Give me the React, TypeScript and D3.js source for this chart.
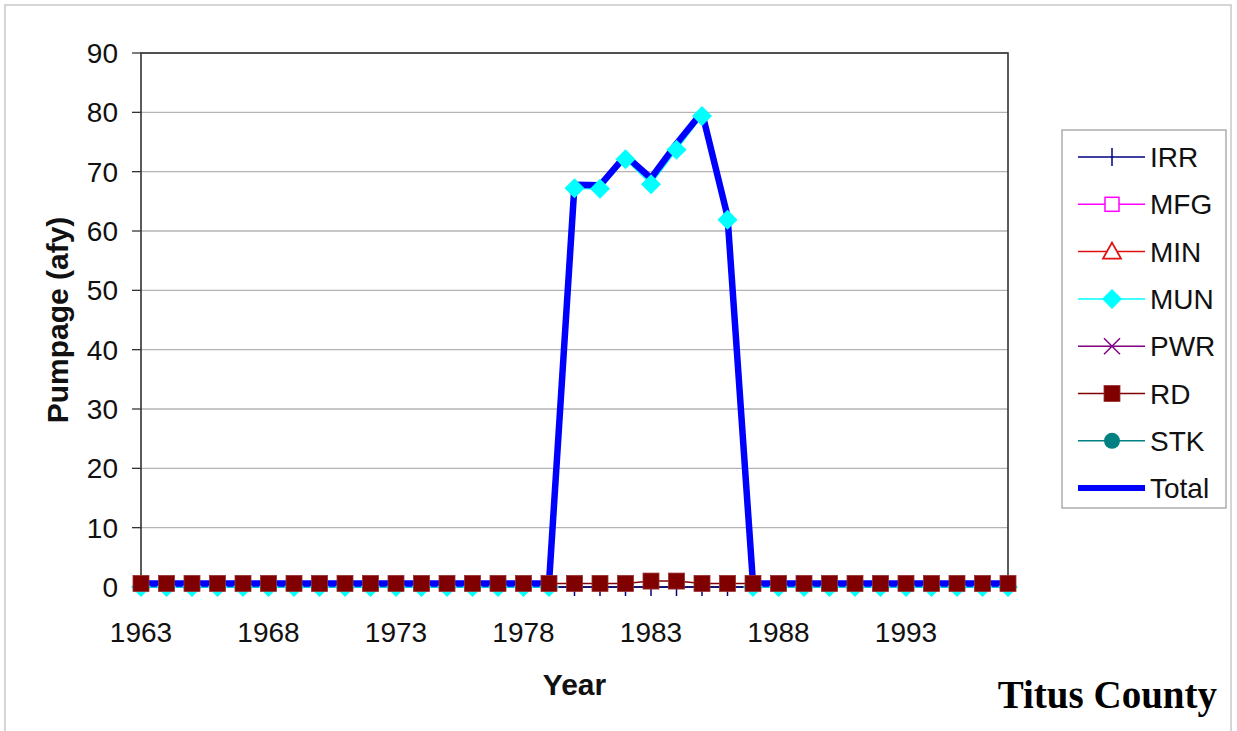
import React from 'react';
import * as d3 from 'd3';

// categories (years) and tick labels
const years = [
  1963, 1964, 1965, 1966, 1967, 1968, 1969, 1970, 1971, 1972, 1973, 1974,
  1975, 1976, 1977, 1978, 1979, 1980, 1981, 1982, 1983, 1984, 1985, 1986,
  1987, 1988, 1989, 1990, 1991, 1992, 1993, 1994, 1995, 1996, 1997,
];
const yearTicks = [1963, 1968, 1973, 1978, 1983, 1988, 1993];
const valueTicks = [0, 10, 20, 30, 40, 50, 60, 70, 80, 90];

// series values (afy)
const irr = [
  0, 0, 0, 0, 0, 0, 0, 0, 0, 0, 0, 0, 0, 0, 0, 0, 0, 0, 0, 0, 0, 0, 0, 0,
  0, 0, 0, 0, 0, 0, 0, 0, 0, 0, 0,
];
const mun = [
  0, 0, 0, 0, 0, 0, 0, 0, 0, 0, 0, 0, 0, 0, 0, 0, 0,
  67.2, 67.1, 72.1, 67.9, 73.7, 79.4, 61.9,
  0, 0, 0, 0, 0, 0, 0, 0, 0, 0, 0,
];
const rd = [
  0.6, 0.6, 0.6, 0.6, 0.6, 0.6, 0.6, 0.6, 0.6, 0.6, 0.6, 0.6, 0.6, 0.6, 0.6,
  0.6, 0.6, 0.6, 0.6, 0.6, 1.0, 1.0, 0.6, 0.6, 0.6, 0.6, 0.6, 0.6, 0.6, 0.6,
  0.6, 0.6, 0.6, 0.6, 0.6,
];
const total = [
  0.6, 0.6, 0.6, 0.6, 0.6, 0.6, 0.6, 0.6, 0.6, 0.6, 0.6, 0.6, 0.6, 0.6, 0.6,
  0.6, 0.6, 67.8, 67.7, 72.7, 68.9, 74.7, 80.0, 62.5, 0.6, 0.6, 0.6, 0.6, 0.6,
  0.6, 0.6, 0.6, 0.6, 0.6, 0.6,
];

const legendItems = ['IRR', 'MFG', 'MIN', 'MUN', 'PWR', 'RD', 'STK', 'Total'];
const colors: Record<string, string> = {
  IRR: '#000080',
  MFG: '#ff00ff',
  MIN: '#e01010',
  MUN: '#00ffff',
  PWR: '#800080',
  RD: '#800000',
  STK: '#008080',
  Total: '#0000ff',
};

const W = 1237;
const H = 731;
const plot = { left: 141, right: 1008, top: 53, bottom: 587 };
const font = "'Liberation Sans', Arial, sans-serif";

const Marker: React.FC<{ kind: string; x: number; y: number }> = ({ kind, x, y }) => {
  const c = colors[kind];
  switch (kind) {
    case 'IRR':
      return <path d={`M${x},${y - 9}V${y + 9}`} stroke={c} strokeWidth={1.5} />;
    case 'MFG':
      return <rect x={x - 7} y={y - 7} width={14} height={14} fill="#fff" stroke={c} strokeWidth={1.5} />;
    case 'MIN':
      return <path d={`M${x},${y - 9}L${x + 9},${y + 7}L${x - 9},${y + 7}Z`} fill="#fff" stroke={c} strokeWidth={1.8} />;
    case 'MUN':
      return <path d={`M${x},${y - 10}L${x + 10},${y}L${x},${y + 10}L${x - 10},${y}Z`} fill={c} />;
    case 'PWR':
      return <path d={`M${x - 8},${y - 8}L${x + 8},${y + 8}M${x - 8},${y + 8}L${x + 8},${y - 8}`} stroke={c} strokeWidth={1.5} />;
    case 'RD':
      return <rect x={x - 8} y={y - 8} width={16} height={16} fill={c} stroke="#9a3030" strokeWidth={0.8} />;
    case 'STK':
      return <circle cx={x} cy={y} r={8} fill={c} />;
    default:
      return null;
  }
};

export default function App() {
  const x = d3.scaleLinear().domain([years[0], years[years.length - 1]]).range([plot.left, plot.right]);
  const y = d3.scaleLinear().domain([0, 90]).range([plot.bottom, plot.top]);

  const line = d3.line<number>()
    .x((_, i) => x(years[i]))
    .y(d => y(d));

  const legendX = 1062;
  const legendY = 130;
  const legendRow = 47.3;

  return (
    <svg width={W} height={H} style={{ position: 'absolute', left: 0, top: 0, background: '#fff' }}>
      {/* outer frame */}
      <rect x={5} y={5} width={1226} height={740} fill="#fff" stroke="#c8c8c8" strokeWidth={1.5} />

      {/* grid lines */}
      {valueTicks.map(v => (
        <line key={v} x1={plot.left} x2={plot.right} y1={y(v)} y2={y(v)} stroke="#b4b4b4" strokeWidth={1.3} />
      ))}

      {/* y axis ticks & labels */}
      {valueTicks.map(v => (
        <g key={`t${v}`}>
          <line x1={plot.left - 9} x2={plot.left} y1={y(v)} y2={y(v)} stroke="#333" strokeWidth={1.3} />
          <text x={118} y={y(v) + 10} textAnchor="end" fontFamily={font} fontSize={28} fill="#111">{v}</text>
        </g>
      ))}

      {/* plot border */}
      <rect x={plot.left} y={plot.top} width={plot.right - plot.left} height={plot.bottom - plot.top}
        fill="none" stroke="#333" strokeWidth={1.6} />

      {/* x labels */}
      {yearTicks.map(t => (
        <text key={t} x={x(t)} y={642} textAnchor="middle" fontFamily={font} fontSize={28} fill="#111">{t}</text>
      ))}

      {/* thin series lines */}
      <path d={line(irr) ?? ''} fill="none" stroke={colors.IRR} strokeWidth={1.5} />
      <path d={line(mun) ?? ''} fill="none" stroke={colors.MUN} strokeWidth={1.5} />
      <path d={line(rd) ?? ''} fill="none" stroke={colors.RD} strokeWidth={1.5} />

      {/* total */}
      <path d={line(total) ?? ''} fill="none" stroke={colors.Total} strokeWidth={6.5} strokeLinejoin="round" />

      {/* markers */}
      {irr.map((v, i) => <Marker key={`i${i}`} kind="IRR" x={x(years[i])} y={y(v)} />)}
      {mun.map((v, i) => <Marker key={`m${i}`} kind="MUN" x={x(years[i])} y={y(v)} />)}
      {rd.map((v, i) => <Marker key={`r${i}`} kind="RD" x={x(years[i])} y={y(v)} />)}

      {/* axis titles */}
      <text transform={`translate(68,${(plot.top + plot.bottom) / 2}) rotate(-90)`} textAnchor="middle"
        fontFamily={font} fontSize={30} fontWeight="bold" fill="#111">Pumpage (afy)</text>
      <text x={(plot.left + plot.right) / 2} y={695} textAnchor="middle"
        fontFamily={font} fontSize={30} fontWeight="bold" fill="#111">Year</text>

      {/* legend */}
      <rect x={legendX} y={legendY} width={1226 - legendX} height={508 - legendY} fill="#fff" stroke="#999" strokeWidth={1.2} />
      {legendItems.map((k, i) => {
        const ly = legendY + 27 + i * legendRow;
        return (
          <g key={k}>
            <line x1={1078} x2={1145} y1={ly} y2={ly} stroke={colors[k]} strokeWidth={k === 'Total' ? 6 : 1.5} />
            <Marker kind={k} x={1112} y={ly} />
            <text x={1150} y={ly + 10} fontFamily={font} fontSize={28} fill="#111">{k}</text>
          </g>
        );
      })}

      {/* county label */}
      <text x={1217} y={708} textAnchor="end" fontFamily="'Liberation Serif', 'Times New Roman', serif"
        fontSize={39} fontWeight="bold" fill="#000">Titus County</text>
    </svg>
  );
}
